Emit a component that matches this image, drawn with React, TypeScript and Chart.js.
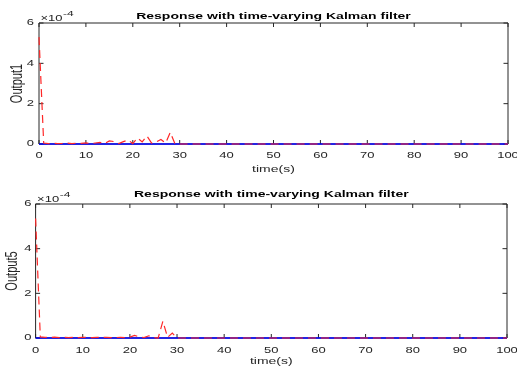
import { useEffect, useRef } from 'react';
import { Chart, registerables } from 'chart.js';

Chart.register(...registerables);

const FONT = "'Liberation Sans', Arial, Helvetica, sans-serif";
const INK = '#262626';
const WIDTH = 517;
// glyphs are drawn squeezed vertically (wide, low lettering)
const TEXT_SQUASH = 0.65;

// sample times in seconds
const redTime = [
  0, 1, 2, 3, 4, 5, 6, 7, 8, 9, 10, 11, 12, 13, 14, 15, 16, 17, 18, 19, 20,
  21, 22, 23, 24, 25, 26, 27, 28, 29, 30, 40, 50, 60, 70, 80, 90, 100,
];
const blueTime = [0, 100];

// responses in units of 1e-4
const output1Kalman = [
  5.3, 0.05, 0.02, 0.03, 0.02, 0.03, 0.05, 0.02, 0.04, 0.03, 0.06, 0.02, 0.05,
  0.08, 0.02, 0.15, 0.12, 0.02, 0.12, 0.2, 0.02, 0.3, 0.1, 0.4, 0.05, 0.1,
  0.22, 0.05, 0.58, 0, 0, 0, 0, 0, 0, 0, 0, 0,
];
const output5Kalman = [
  5.35, 0.05, 0.03, 0.02, 0.04, 0.02, 0.03, 0.02, 0.03, 0.02, 0.03, 0.02,
  0.02, 0.03, 0.02, 0.03, 0.02, 0.02, 0.03, 0.02, 0.04, 0.12, 0.05, 0.02, 0.1,
  0.02, 0, 0.75, 0.03, 0.22, 0, 0, 0, 0, 0, 0, 0, 0,
];
const output1Ref = [0, 0];
const output5Ref = [0, 0];

const xTicks = { min: 0, max: 100, step: 10 };
const yTicks = { min: 0, max: 6, step: 2 };
const titleText = 'Response with time-varying Kalman filter';
const xLabel = 'time(s)';

type PanelSpec = {
  height: number;
  yLabel: string;
  red: number[];
  blue: number[];
  titlePad: { top: number; bottom: number };
  yAxisWidth: number;
  xAxisHeight: number;
  padRight: number;
  yTitlePad: number;
  yTickPad: number;
  xTickPad: number;
  xTitlePad: number;
};

const panels: PanelSpec[] = [
  {
    height: 185,
    yLabel: 'Output1',
    red: output1Kalman,
    blue: output1Ref,
    titlePad: { top: 9, bottom: 0 },
    yAxisWidth: 39,
    xAxisHeight: 41,
    padRight: 9,
    yTitlePad: 7.3,
    yTickPad: 5,
    xTickPad: 4,
    xTitlePad: 7.6,
  },
  {
    height: 189,
    yLabel: 'Output5',
    red: output5Kalman,
    blue: output5Ref,
    titlePad: { top: 2.5, bottom: 2.5 },
    yAxisWidth: 35.6,
    xAxisHeight: 36,
    padRight: 10,
    yTitlePad: 2.6,
    yTickPad: 4,
    xTickPad: 5,
    xTitlePad: 4.1,
  },
];

// every text run is squeezed vertically around its anchor point, in screen space
function squashText(ctx: CanvasRenderingContext2D, k: number) {
  if ((ctx as any).__squashed) return;
  (ctx as any).__squashed = true;
  const orig = ctx.fillText.bind(ctx);
  ctx.fillText = (text: string, x: number, y: number, maxWidth?: number) => {
    const m = ctx.getTransform();
    const p = m.transformPoint(new DOMPoint(x, y));
    ctx.save();
    ctx.setTransform(
      new DOMMatrix().translate(p.x, p.y).scale(1, k).translate(-p.x, -p.y).multiply(m)
    );
    if (maxWidth === undefined) orig(text, x, y);
    else orig(text, x, y, maxWidth);
    ctx.restore();
  };
}

// MATLAB-like axes: full box with inward ticks, plus the ×10^-4 exponent
const axesBox = {
  id: 'axesBox',
  beforeDatasetsDraw(chart: any) {
    const { ctx, chartArea: a, scales } = chart;
    const x = scales.x;
    const y = scales.y;
    ctx.save();
    ctx.strokeStyle = INK;
    ctx.lineWidth = 1;
    ctx.beginPath();
    ctx.rect(a.left, a.top, a.right - a.left, a.bottom - a.top);
    for (const t of x.ticks) {
      const px = x.getPixelForValue(t.value);
      ctx.moveTo(px, a.bottom);
      ctx.lineTo(px, a.bottom - 4);
      ctx.moveTo(px, a.top);
      ctx.lineTo(px, a.top + 4);
    }
    for (const t of y.ticks) {
      const py = y.getPixelForValue(t.value);
      ctx.moveTo(a.left, py);
      ctx.lineTo(a.left + 4.5, py);
      ctx.moveTo(a.right, py);
      ctx.lineTo(a.right - 4.5, py);
    }
    ctx.stroke();
    ctx.restore();
  },
  afterDraw(chart: any) {
    const { ctx, chartArea: a } = chart;
    ctx.save();
    ctx.fillStyle = INK;
    ctx.textAlign = 'left';
    ctx.textBaseline = 'alphabetic';
    ctx.font = `13px ${FONT}`;
    const base = '×10';
    ctx.fillText(base, a.left + 1.5, a.top - 2.5);
    const w = ctx.measureText(base).width;
    ctx.font = `12px ${FONT}`;
    ctx.fillText('-4', a.left + 1.5 + w + 0.5, a.top - 7.5);
    ctx.restore();
  },
};

function Panel({ spec }: { spec: PanelSpec }) {
  const ref = useRef<HTMLCanvasElement | null>(null);

  useEffect(() => {
    const canvas = ref.current;
    if (!canvas) return;
    const c2d = canvas.getContext('2d');
    if (c2d) squashText(c2d, TEXT_SQUASH);
    const tickFont = { family: FONT, size: 13 };
    const chart = new Chart(canvas, {
      type: 'line',
      data: {
        datasets: [
          {
            data: blueTime.map((t, i) => ({ x: t, y: spec.blue[i] })),
            borderColor: 'rgb(0,0,255)',
            borderWidth: 1.4,
            pointRadius: 0,
            tension: 0,
            clip: 4,
            order: 2,
          },
          {
            data: redTime.map((t, i) => ({ x: t, y: spec.red[i] })),
            borderColor: 'rgb(255,40,40)',
            borderWidth: 1.2,
            borderDash: [8, 5],
            pointRadius: 0,
            tension: 0,
            clip: 4,
            order: 1,
          },
        ],
      },
      options: {
        responsive: false,
        maintainAspectRatio: false,
        animation: false,
        devicePixelRatio: 1,
        events: [],
        layout: { padding: { left: 0, right: spec.padRight, top: 0, bottom: 0 } },
        plugins: {
          legend: { display: false },
          tooltip: { enabled: false },
          title: {
            display: true,
            text: titleText,
            fullSize: false,
            color: '#000',
            font: { family: FONT, size: 14, weight: 'bold', lineHeight: 1 },
            padding: spec.titlePad,
          },
        },
        scales: {
          x: {
            type: 'linear',
            min: xTicks.min,
            max: xTicks.max,
            ticks: {
              stepSize: xTicks.step,
              color: INK,
              font: tickFont,
              padding: spec.xTickPad,
              maxRotation: 0,
              autoSkip: false,
            },
            grid: { display: false, drawTicks: false },
            border: { display: false },
            title: {
              display: true,
              text: xLabel,
              color: INK,
              font: { family: FONT, size: 14 },
              padding: { top: 0, bottom: spec.xTitlePad },
            },
            afterFit: (s: any) => {
              s.height = spec.xAxisHeight;
              s.paddingLeft = 0;
              s.paddingRight = 0;
            },
          },
          y: {
            type: 'linear',
            min: yTicks.min,
            max: yTicks.max,
            ticks: {
              stepSize: yTicks.step,
              color: INK,
              font: tickFont,
              padding: spec.yTickPad,
            },
            grid: { display: false, drawTicks: false },
            border: { display: false },
            title: {
              display: true,
              text: spec.yLabel,
              color: INK,
              font: { family: FONT, size: 17 },
              padding: { top: spec.yTitlePad, bottom: 0 },
            },
            afterFit: (s: any) => {
              s.width = spec.yAxisWidth;
              s.paddingTop = 0;
              s.paddingBottom = 0;
            },
          },
        },
      },
      plugins: [axesBox],
    } as any);
    return () => chart.destroy();
  }, [spec]);

  return (
    <canvas
      ref={ref}
      width={WIDTH}
      height={spec.height}
      style={{ display: 'block', width: WIDTH + 'px', height: spec.height + 'px' }}
    />
  );
}

export default function App() {
  return (
    <div
      style={{
        position: 'absolute',
        left: 0,
        top: 0,
        width: WIDTH,
        height: 374,
        background: '#fff',
      }}
    >
      {panels.map((p) => (
        <Panel key={p.yLabel} spec={p} />
      ))}
    </div>
  );
}
